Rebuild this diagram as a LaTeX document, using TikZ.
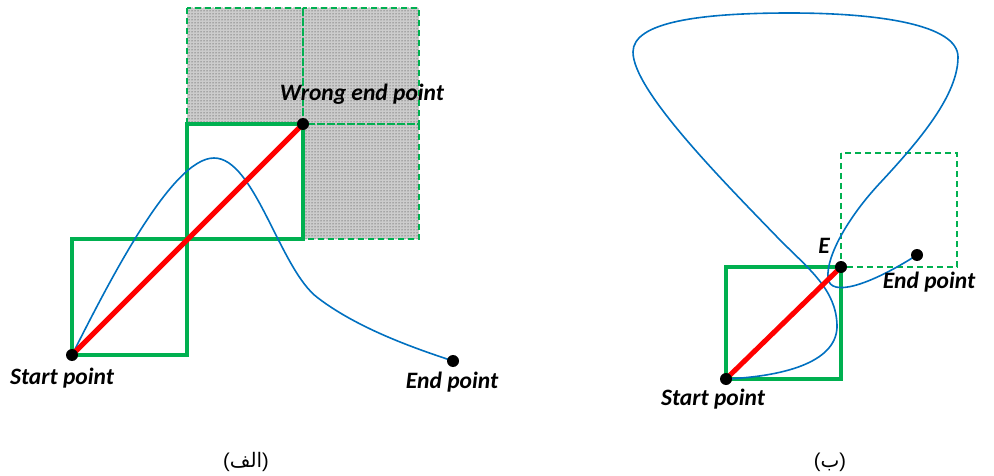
\documentclass[tikz,border=0pt]{standalone}
\usepackage{fontspec}
\setmainfont{Carlito}
\newfontfamily\arabicfont[Script=Arabic]{DejaVu Sans}
\newfontfamily\parenfont{Liberation Sans}
\TeXXeTstate=1
\usetikzlibrary{patterns}
\definecolor{offgreen}{HTML}{00B050}
\definecolor{offblue}{HTML}{0070C0}
\definecolor{offred}{HTML}{FF0000}
\tikzset{
  pt/.style={circle,fill=black,inner sep=0pt,minimum size=12pt},
  lbl/.style={font=\fontsize{23.5}{26}\selectfont\bfseries\itshape,inner sep=0pt},
  captext/.style={font=\fontsize{20}{23}\selectfont,inner sep=0pt},
  gbox/.style={draw=offgreen,line width=3.5pt},
  dbox/.style={draw=offgreen,line width=1.6pt,dash pattern=on 6pt off 4pt},
  curve/.style={draw=offblue,line width=1.6pt},
  redline/.style={draw=offred,line width=5pt}
}
\begin{document}
\begin{tikzpicture}[x=1pt,y=-1pt]
\useasboundingbox (0,0) rectangle (994,476);
% ---------- left panel ----------
\fill[gray!40] (187,8) rectangle (419,124);
\fill[gray!40] (303,124) rectangle (419,239);
\fill[pattern=dots,pattern color=black!85] (187,8) rectangle (419,124);
\fill[pattern=dots,pattern color=black!85] (303,124) rectangle (419,239);
\draw[dbox] (187,8) rectangle (303,124);
\draw[dbox] (303,8) rectangle (419,124);
\draw[dbox] (303,124) rectangle (419,239);
\draw[gbox] (72,239) rectangle (187,355);
\draw[gbox] (187,124) rectangle (303,239);
\coordinate (lsc) at (72,355);
\coordinate (lwc) at (303,124);
\draw[curve] (lsc) .. controls (110,280) and (172,158) .. (214,158)
  .. controls (255,158) and (280,270) .. (318,298)
  .. controls (360,330) and (420,350) .. (453,361);
\draw[redline] (lsc) -- (lwc);
\node[pt] (ls) at (lsc) {};
\node[pt] (lw) at (lwc) {};
\node[pt] (le) at (453,361) {};
\node[lbl] (lslab) at (62,378) {Start point};
\node[lbl] (lwlab) at (362,94) {Wrong end point};
\node[lbl] (lelab) at (452,382) {End point};
% ---------- right panel ----------
\draw[dbox] (841,153) rectangle (957,267);
\draw[gbox] (726,267) rectangle (841,379);
\coordinate (rsc) at (726,379);
\coordinate (rec) at (841,267);
\draw[curve] (rsc) .. controls (790,376) and (838,360) .. (837,325)
  .. controls (836,290) and (810,270) .. (780,240)
  .. controls (720,178) and (633,90) .. (633,52)
  .. controls (633,22) and (700,13) .. (790,13)
  .. controls (880,13) and (958,25) .. (958,57)
  .. controls (958,95) and (920,140) .. (880,183)
  .. controls (850,215) and (826,255) .. (828,278)
  .. controls (830,298) and (870,285) .. (917,255);
\draw[redline] (rsc) -- (rec);
\node[pt] (rs) at (rsc) {};
\node[pt] (re) at (rec) {};
\node[pt] (rend) at (917,255) {};
\node[lbl] (rslab) at (713,399) {Start point};
\node[lbl] (relab) at (824,246) {E};
\node[lbl] (rendlab) at (929,282) {End point};
% ---------- captions ----------
\node[captext] (capa) at (246,462) {{\parenfont(}{\arabicfont\beginR الف\endR}{\parenfont)}};
\node[captext] (capb) at (830,462) {{\parenfont(}{\arabicfont\beginR ب\endR}{\parenfont)}};
\end{tikzpicture}
\end{document}
